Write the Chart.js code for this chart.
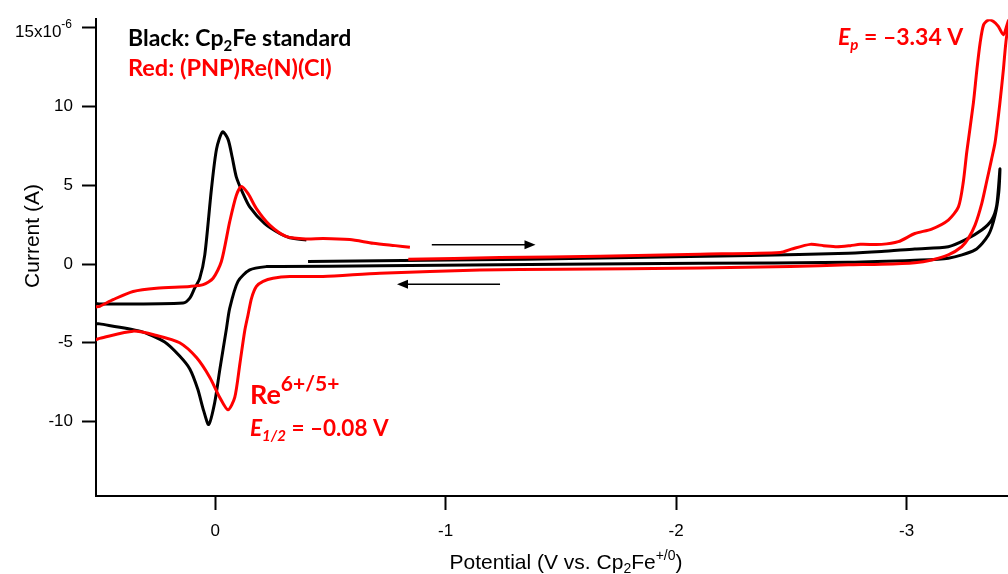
<!DOCTYPE html>
<html><head><meta charset="utf-8">
<script src="https://cdn.jsdelivr.net/npm/chart.js@4.4.0/dist/chart.umd.min.js"></script>
<style>html,body{margin:0;padding:0;background:#fff;}#wrap{width:1008px;height:574px;}</style>
</head><body><div id="wrap"><canvas id="c" width="1008" height="574"></canvas></div>
<script>
// ---- tick labels ----
const xTickValues = [0, -1, -2, -3];
const yTickValues = [15, 10, 5, 0, -5, -10];

// ---- Black: Cp2Fe standard (scan order) ----
const blackV = [-0.403,-1.019,-1.670,-2.321,-2.747,-2.891,-3.036,-3.181,-3.254,-3.326,-3.369,-3.391,-3.405,
  -3.400,-3.384,-3.355,-3.297,-3.181,-3.036,-2.747,-2.104,-1.497,-0.715,-0.279,-0.223,-0.150,-0.099,-0.063,-0.049,-0.020,
  0.002,0.028,0.050,0.076,0.110,0.154,0.219,0.327,0.501,0.53,
  0.53,0.501,0.139,0.110,0.089,0.067,0.045,0.016,-0.006,-0.032,-0.056,-0.074,-0.092,-0.120,-0.150,-0.215,-0.280,-0.324,-0.396];
const blackI = [0.16,0.25,0.38,0.54,0.68,0.79,0.96,1.10,1.53,2.16,2.79,3.73,6.04,
  4.57,3.10,1.84,0.90,0.37,0.24,0.11,0.05,-0.01,-0.11,-0.16,-0.16,-0.37,-1.10,-2.81,-4.10,-6.72,
  -8.80,-10.19,-9.31,-7.92,-6.66,-5.84,-4.95,-4.26,-3.80,-3.75,
  -2.54,-2.54,-2.47,-2.16,-1.53,-0.91,0.58,4.78,7.31,8.40,7.92,6.78,5.52,4.51,3.63,2.56,1.94,1.67,1.53];

// ---- Red: (PNP)Re(N)(Cl) (scan order) ----
const redV = [-0.838,-1.236,-1.670,-2.104,-2.452,-2.500,-2.582,-2.640,-2.698,-2.756,-2.799,-2.891,-2.964,-3.036,-3.109,-3.181,
  -3.225,-3.246,-3.261,-3.290,-3.305,-3.319,-3.334,-3.355,-3.377,-3.398,-3.420,-3.438,-3.460,
  -3.434,-3.420,-3.405,-3.384,-3.369,-3.347,-3.326,-3.297,-3.268,-3.239,-3.181,-3.109,-3.036,-2.891,-2.747,
  -2.495,-2.104,-1.497,-1.149,-0.715,-0.468,-0.324,-0.251,-0.208,-0.179,-0.158,-0.143,-0.128,-0.107,-0.085,-0.056,
  -0.020,0.023,0.081,0.154,0.250,0.356,0.501,0.53,
  0.53,0.501,0.443,0.356,0.255,0.110,0.052,0.009,-0.027,-0.063,-0.092,-0.114,-0.143,-0.179,-0.237,-0.310,-0.396,-0.469,-0.584,-0.686,-0.781,-0.845];
const redI = [0.30,0.41,0.50,0.63,0.74,0.95,1.25,1.17,1.10,1.17,1.25,1.25,1.42,1.94,2.22,2.79,
  3.63,5.21,7.10,10.25,12.35,14.04,15.19,15.50,15.40,15.09,14.56,15.30,16.20,
  14.46,12.35,10.25,7.73,6.68,5.21,3.84,2.47,1.63,1.10,0.58,0.26,0.09,-0.01,-0.05,
  -0.16,-0.25,-0.33,-0.38,-0.58,-0.79,-0.79,-0.90,-1.10,-1.42,-2.16,-3.20,-4.26,-6.36,-8.47,-9.26,
  -8.47,-7.20,-5.94,-5.00,-4.55,-4.26,-4.72,-4.80,
  -2.80,-2.68,-2.26,-1.74,-1.53,-1.42,-1.31,-0.90,0.16,2.68,4.37,4.93,4.47,3.52,2.47,1.74,1.59,1.63,1.56,1.32,1.17,1.07];

// ---- scan-direction arrows (data units) ----
const arrowForward = {from: [-0.94, 1.23], to: [-1.39, 1.23]};
const arrowReverse = {from: [-1.236, -1.29], to: [-0.789, -1.29]};

const toPts = (V, I) => V.map((v, i) => ({x: v, y: I[i]}));

const AR = '"Liberation Sans", Arial, sans-serif';
const LA = 'Lato, "Open Sans", sans-serif';
const TICK_FONT = {family: AR, size: 17};
const RED = '#ff0000';

function runs(ctx, x, y, list, align) {
  let w = 0;
  for (const r of list) { ctx.font = r.f; w += ctx.measureText(r.t).width; }
  let cx = align === 'right' ? x - w : (align === 'center' ? x - w / 2 : x);
  ctx.textAlign = 'left';
  ctx.textBaseline = 'alphabetic';
  for (const r of list) {
    ctx.font = r.f; ctx.fillStyle = r.c || '#000';
    ctx.fillText(r.t, cx, y + (r.dy || 0));
    cx += ctx.measureText(r.t).width;
  }
}

const overlay = {
  id: 'overlay',
  afterDraw(chart) {
    const ctx = chart.ctx, xs = chart.scales.x, ys = chart.scales.y;
    ctx.save();
    // y tick label with exponent
    const y15 = ys.getPixelForValue(15);
    runs(ctx, 72, y15 + 9, [
      {t: '15x10', f: '17px ' + AR},
      {t: '-6', f: '12px ' + AR, dy: -9}
    ], 'right');
    // axis titles
    runs(ctx, 566, 569, [
      {t: 'Potential (V vs. Cp', f: '21px ' + AR},
      {t: '2', f: '14px ' + AR, dy: 4},
      {t: 'Fe', f: '21px ' + AR},
      {t: '+/0', f: '14px ' + AR, dy: -9},
      {t: ')', f: '21px ' + AR}
    ], 'center');
    ctx.save();
    ctx.translate(39, 236);
    ctx.rotate(-Math.PI / 2);
    runs(ctx, 0, 0, [{t: 'Current (A)', f: '21px ' + AR}], 'center');
    ctx.restore();
    // annotations
    const B = 'bold 23px ' + LA;
    const BS = 'bold 15px ' + LA;
    runs(ctx, 128, 46, [
      {t: 'Black: Cp', f: B},
      {t: '2', f: BS, dy: 5},
      {t: 'Fe standard', f: B}
    ]);
    runs(ctx, 128, 76, [{t: 'Red: (PNP)Re(N)(Cl)', f: 'bold 23.5px ' + LA, c: RED}]);
    runs(ctx, 838, 45, [
      {t: 'E', f: 'italic ' + B, c: RED},
      {t: 'p', f: 'italic ' + BS, c: RED, dy: 5},
      {t: ' = \u20133.34 V', f: B, c: RED}
    ]);
    runs(ctx, 250, 404, [
      {t: 'Re', f: 'bold 27px ' + LA, c: RED},
      {t: '6+/5+', f: 'bold 21px ' + LA, c: RED, dy: -13}
    ]);
    runs(ctx, 250, 436, [
      {t: 'E', f: 'italic bold 22.5px ' + LA, c: RED},
      {t: '1/2', f: 'italic bold 15px ' + LA, c: RED, dy: 5},
      {t: ' = \u20130.08 V', f: 'bold 22.5px ' + LA, c: RED}
    ]);
    // arrows
    for (const a of [arrowForward, arrowReverse]) {
      const x0 = xs.getPixelForValue(a.from[0]), y0 = ys.getPixelForValue(a.from[1]);
      const x1 = xs.getPixelForValue(a.to[0]), y1 = ys.getPixelForValue(a.to[1]);
      const dir = Math.sign(x1 - x0);
      ctx.strokeStyle = '#000'; ctx.fillStyle = '#000'; ctx.lineWidth = 1.5;
      ctx.beginPath(); ctx.moveTo(x0, y0); ctx.lineTo(x1 - dir * 8, y1); ctx.stroke();
      ctx.beginPath(); ctx.moveTo(x1, y1); ctx.lineTo(x1 - dir * 11, y1 - 4.5); ctx.lineTo(x1 - dir * 11, y1 + 4.5); ctx.closePath(); ctx.fill();
    }
    ctx.restore();
  }
};

new Chart(document.getElementById('c'), {
  type: 'scatter',
  data: {
    datasets: [
      {label: 'Red', data: toPts(redV, redI), showLine: true, borderColor: RED, borderWidth: 3, pointRadius: 0, tension: 0.25, clip: 0},
      {label: 'Black', data: toPts(blackV, blackI), showLine: true, borderColor: '#000000', borderWidth: 3, pointRadius: 0, tension: 0.25, clip: 0}
    ]
  },
  options: {
    responsive: false, animation: false, devicePixelRatio: 1,
    layout: {padding: {top: 16, right: 0, left: 0, bottom: 0}},
    plugins: {legend: {display: false}, tooltip: {enabled: false}},
    scales: {
      x: {
        type: 'linear', reverse: true, min: -3.44, max: 0.517,
        afterBuildTicks: s => { s.ticks = xTickValues.map(v => ({value: v})); },
        afterFit: s => { s.height = 78; },
        border: {display: true, color: '#000', width: 2},
        grid: {display: true, drawOnChartArea: false, drawTicks: true, tickLength: 14, tickWidth: 2, tickColor: '#000'},
        ticks: {color: '#000', font: TICK_FONT, padding: 11, maxRotation: 0, autoSkip: false, callback: v => String(v)}
      },
      y: {
        type: 'linear', min: -14.73, max: 15.55,
        afterBuildTicks: s => { s.ticks = yTickValues.map(v => ({value: v})); },
        afterFit: s => { s.width = 96; },
        border: {display: true, color: '#000', width: 2},
        grid: {display: true, drawOnChartArea: false, drawTicks: true, tickLength: 14, tickWidth: 2, tickColor: '#000'},
        ticks: {color: '#000', font: TICK_FONT, padding: 9, autoSkip: false, callback: v => (v === 15 ? '' : String(v))}
      }
    }
  },
  plugins: [overlay]
});
</script></body></html>
